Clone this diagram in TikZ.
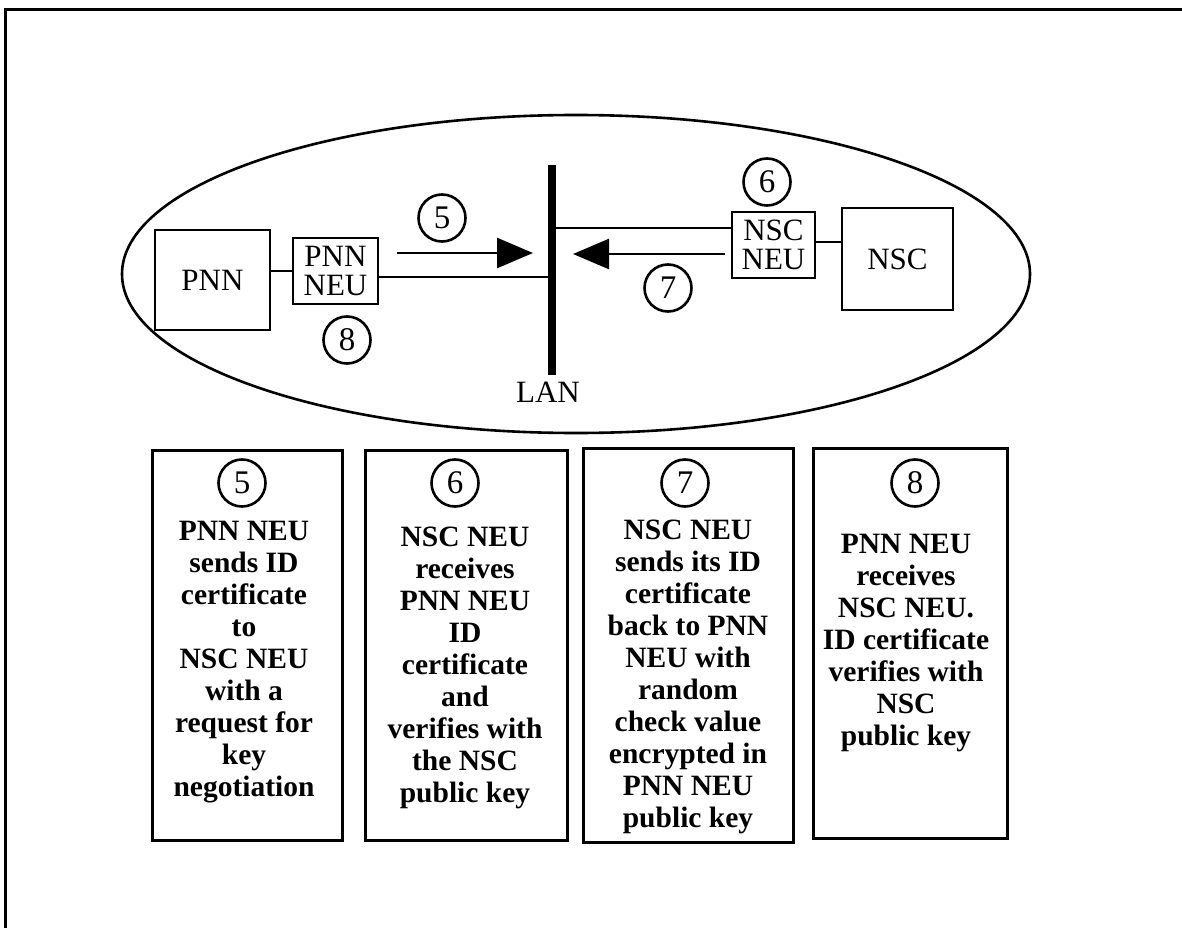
\documentclass[tikz,border=0pt]{standalone}
\usepackage{fontspec}
\setmainfont{Liberation Serif}
\usetikzlibrary{arrows.meta}
\begin{document}
\begin{tikzpicture}[x=1pt,y=-1pt,
  unitbox/.style={draw, line width=2.6pt, inner sep=0pt, align=center, font=\fontsize{31}{29}\selectfont},
  num/.style={draw, circle, line width=2.6pt, minimum size=47pt, inner sep=0pt, font=\fontsize{33}{33}\selectfont},
  conn/.style={line width=2.6pt},
  arr/.style={line width=2.6pt, -{Triangle[length=36pt,width=30pt]}},
  descbox/.style={draw, line width=3pt, inner sep=0pt},
  desctext/.style={align=center, inner sep=0pt, anchor=north, font=\bfseries\fontsize{29.5}{32}\selectfont}]
\useasboundingbox (0,0) rectangle (1182,928);
% frame
\draw[line width=3pt] (1182,10) -- (5,10) -- (5,928);
% ellipse
\draw[line width=2.6pt] (576,274) ellipse [x radius=454, y radius=159];
% units
\node[unitbox, minimum width=115pt, minimum height=100pt] (pnn) at (212.5,280) {PNN};
\node[unitbox, minimum width=85pt, minimum height=66pt] (pnnneu) at (335.5,271) {PNN\\NEU};
\node[unitbox, minimum width=83pt, minimum height=66pt] (nscneu) at (773.5,245) {NSC\\NEU};
\node[unitbox, minimum width=111pt, minimum height=102pt] (nsc) at (897.5,259) {NSC};
% LAN
\node[fill, minimum width=8pt, minimum height=210pt, inner sep=0pt] (lan) at (552,270) {};
\node[anchor=base, inner sep=0pt, font=\fontsize{31}{31}\selectfont] (lanlabel) at (548,402) {LAN};
% connectors
\draw[conn] (pnn.east |- pnnneu.west) -- (pnnneu.west);
\draw[conn] (pnnneu.east |- 0,277) -- (lan.west |- 0,277);
\draw[conn] (lan.east |- 0,228) -- (nscneu.west |- 0,228);
\draw[conn] (nscneu.east |- 0,242) -- (nsc.west |- 0,242);
% arrows
\coordinate (a5s) at (397,253);
\coordinate (a5e) at (533,253);
\coordinate (a7s) at (725,254);
\coordinate (a7e) at (573,254);
\draw[arr] (a5s) -- (a5e);
\draw[arr] (a7s) -- (a7e);
% circled numbers
\node[num] (c5) at (442,218) {5};
\node[num] (c8) at (347,340) {8};
\node[num] (c6) at (767,182) {6};
\node[num] (c7) at (668,288) {7};
% description boxes
\node[descbox, minimum width=190pt, minimum height=390pt] (b5) at (247,645) {};
\node[descbox, minimum width=202pt, minimum height=390pt] (b6) at (466,645) {};
\node[descbox, minimum width=210pt, minimum height=394pt] (b7) at (688,645) {};
\node[descbox, minimum width=194pt, minimum height=390pt] (b8) at (910,643) {};
\node[num] (n5) at (242,483) {5};
\node[num] (n6) at (455,483) {6};
\node[num] (n7) at (685,483) {7};
\node[num] (n8) at (915,483) {8};
\node[desctext] (t5) at (244,521) {PNN NEU\\sends ID\\certificate\\to\\NSC NEU\\with a\\request for\\key\\negotiation};
\node[desctext] (t6) at (465,527) {NSC NEU\\receives\\PNN NEU\\ID\\certificate\\and\\verifies with\\the NSC\\public key};
\node[desctext] (t7) at (688,520) {NSC NEU\\sends its ID\\certificate\\back to PNN\\NEU with\\random\\check value\\encrypted in\\PNN NEU\\public key};
\node[desctext] (t8) at (906,534) {PNN NEU\\receives\\NSC NEU.\\ID certificate\\verifies with\\NSC\\public key};
\end{tikzpicture}
\end{document}
